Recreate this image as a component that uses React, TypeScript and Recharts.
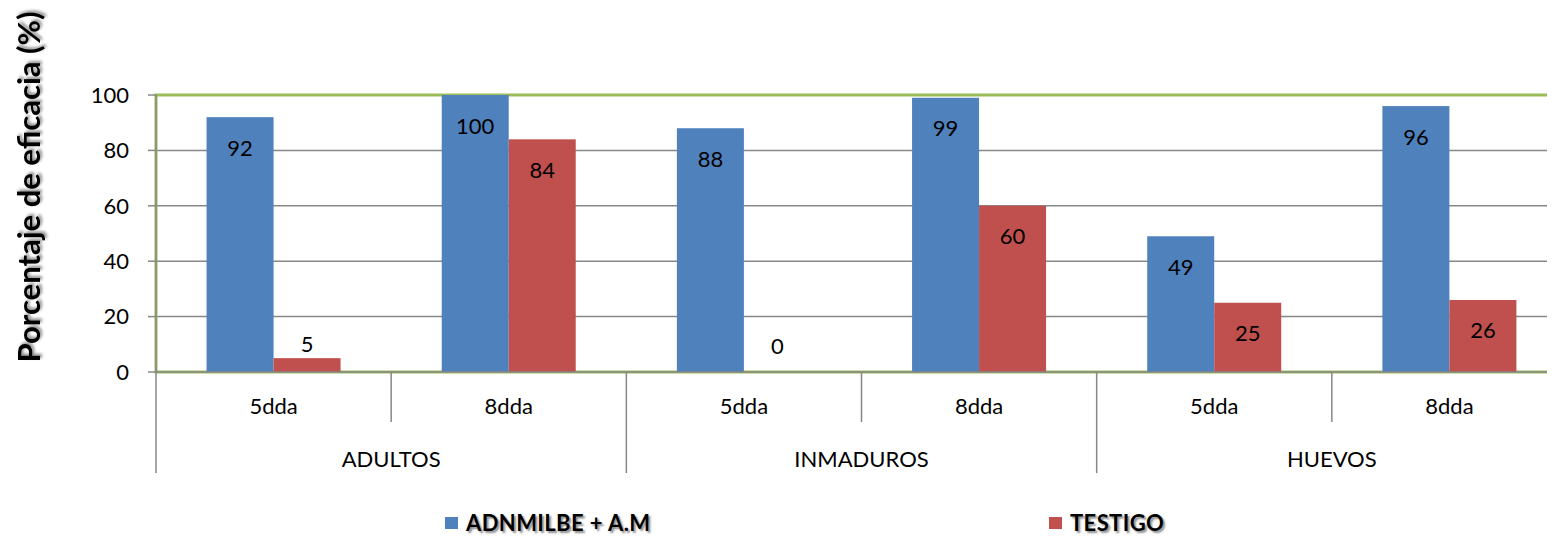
import React from 'react';
import { BarChart, Bar, XAxis, YAxis, CartesianGrid, ReferenceArea } from 'recharts';

const groups = ['ADULTOS', 'ADULTOS', 'INMADUROS', 'INMADUROS', 'HUEVOS', 'HUEVOS'];
const subs = ['5dda', '8dda', '5dda', '8dda', '5dda', '8dda'];
const adnmilbe = [92, 100, 88, 99, 49, 96];
const testigo = [5, 84, 0, 60, 25, 26];
const yTicks = [0, 20, 40, 60, 80, 100];
const seriesNames = ['ADNMILBE + A.M', 'TESTIGO'];
const seriesColors = ['#4F81BD', '#C0504D'];
const yTitle = 'Porcentaje de eficacia (%)';

const data = subs.map((s, i) => ({ sub: s, group: groups[i], a: adnmilbe[i], t: testigo[i] }));

const FONT = 'Lato, "Open Sans", sans-serif';
const GRAY = '#878787';

const SubTick = (props: any) => {
  const { x, y, payload, index } = props;
  const half = payload && typeof payload.offset === 'number' && payload.offset > 0 ? payload.offset : 117.6;
  const left = x - half;
  const long = index % 2 === 0;
  return (
    <g>
      <line x1={left} y1={y} x2={left} y2={y + (long ? 101 : 50)} stroke={GRAY} strokeWidth={1.5} />
      {index === subs.length - 1 && (
        <line x1={x + half} y1={y} x2={x + half} y2={y + 101} stroke={GRAY} strokeWidth={1.5} />
      )}
      <text x={x} y={y + 33} textAnchor="middle" dominantBaseline="central" fontSize={22} fontFamily={FONT} fill="#000">
        {payload.value}
      </text>
    </g>
  );
};

const GroupTick = (props: any) => {
  const { x, y, payload, index } = props;
  if (index % 2 !== 0) return <g />;
  const half = payload && typeof payload.offset === 'number' && payload.offset > 0 ? payload.offset : 117.6;
  return (
    <text x={x + half} y={y + 36} textAnchor="middle" dominantBaseline="central" fontSize={22} fontFamily={FONT} fill="#000">
      {payload.value}
    </text>
  );
};

// Bar shape that also writes the value label (so zero-height bars still get their label)
const BarWithLabel = (props: any) => {
  const { x, y, width, height, fill, value, payload, dataKey } = props;
  const v = payload && dataKey ? payload[dataKey] : Array.isArray(value) ? value[1] - value[0] : value;
  const h = Math.max(0, height || 0);
  const top = height < 0 ? y + height : y;
  const bottom = top + h;
  const cy = h >= 45 ? top + 30 : Math.min(top - 15, bottom - 27);
  return (
    <g>
      {h > 0 && <rect x={x} y={top} width={width} height={h} fill={fill} />}
      <text x={x + width / 2} y={cy} textAnchor="middle" dominantBaseline="central" fontSize={22} fontFamily={FONT} fill="#000">
        {v}
      </text>
    </g>
  );
};

const YTitle = () => (
  <g>
    <defs>
      <filter id="shadowTitle" x="-20%" y="-20%" width="140%" height="140%">
        <feDropShadow dx="2" dy="2" stdDeviation="1.6" floodColor="#000" floodOpacity="0.45" />
      </filter>
    </defs>
    <text
      transform="translate(20,179) rotate(-90)"
      textAnchor="middle"
      dominantBaseline="central"
      fontSize={31}
      fontWeight="bold"
      fontFamily={FONT}
      fill="#000"
      filter="url(#shadowTitle)"
    >
      {yTitle}
    </text>
  </g>
);

const legendLeft = [437, 1041];

export default function App() {
  return (
    <div style={{ position: 'relative', width: 1547, height: 531, overflow: 'hidden', background: '#fff' }}>
      <BarChart
        width={1580}
        height={531}
        data={data}
        margin={{ top: 87, right: 21, left: 0, bottom: 57 }}
        barCategoryGap="21.5%"
        barGap={0}
      >
        <CartesianGrid vertical={false} stroke={GRAY} strokeWidth={1.5} />
        <XAxis
          dataKey="sub"
          height={50}
          interval={0}
          tickSize={0}
          tickMargin={0}
          tickLine={false}
          axisLine={{ stroke: GRAY, strokeWidth: 1.5 }}
          tick={<SubTick />}
        />
        <XAxis
          xAxisId="grp"
          dataKey="group"
          height={60}
          interval={0}
          tickSize={0}
          tickMargin={0}
          tickLine={false}
          axisLine={false}
          tick={<GroupTick />}
        />
        <YAxis
          width={148}
          domain={[0, 100]}
          ticks={yTicks}
          interval={0}
          tickSize={8}
          tickMargin={19}
          axisLine={{ stroke: GRAY, strokeWidth: 1.5 }}
          tickLine={{ stroke: GRAY, strokeWidth: 1.5 }}
          tick={{ fontSize: 22, fontFamily: FONT, fill: '#000' }}
          label={{ content: () => <YTitle /> }}
        />
        <Bar dataKey="a" name={seriesNames[0]} fill={seriesColors[0]} isAnimationActive={false} shape={<BarWithLabel dataKey="a" />} />
        <Bar dataKey="t" name={seriesNames[1]} fill={seriesColors[1]} isAnimationActive={false} shape={<BarWithLabel dataKey="t" />} />
        <ReferenceArea y1={0} y2={100} fill="none" stroke="#9BBB59" strokeWidth={3} ifOverflow="visible" />
      </BarChart>
      {seriesNames.map((n, i) => (
        <div
          key={n}
          style={{
            position: 'absolute',
            left: legendLeft[i],
            top: 504,
            height: 22,
            lineHeight: '22px',
            display: 'flex',
            alignItems: 'center',
            fontFamily: FONT,
            fontWeight: 'bold',
            fontSize: 22,
            color: '#000',
            textShadow: '2px 2px 2px rgba(0,0,0,0.45)',
            whiteSpace: 'nowrap',
          }}
        >
          <span style={{ display: 'inline-block', width: 13, height: 12, background: seriesColors[i], marginRight: 8 }} />
          <span style={{ letterSpacing: 0.4 }}>{n}</span>
        </div>
      ))}
    </div>
  );
}
